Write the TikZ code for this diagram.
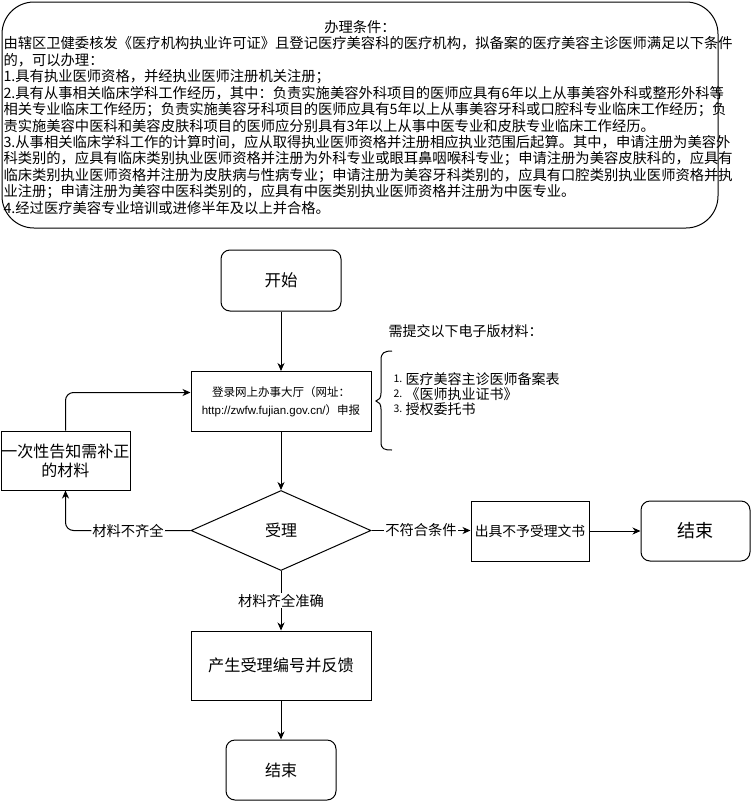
\documentclass[tikz,border=0pt]{standalone}
\usepackage{fontspec}
\setmainfont{Noto Sans CJK SC}
\newfontfamily\latinsans{Liberation Sans}
\usetikzlibrary{shapes.geometric,arrows.meta,calc}
\newcommand\fsz[2]{\fontsize{#1}{#2}\selectfont}
\begin{document}
\begin{tikzpicture}[x=1pt,y=-1pt,line width=1pt,
  box/.style={draw,line width=1pt,inner sep=0pt,align=center},
  rbox/.style={box,rounded corners=9pt},
  arr/.style={-{Stealth[length=8pt,width=7pt,inset=2.5pt]},line width=1pt},
  lbl/.style={fill=white,inner sep=1pt,font=\fsz{14.3}{17}},
  ctext/.style={anchor=west,inner sep=0pt,font=\fsz{14.3}{17}},
  itemno/.style={anchor=west,inner sep=0pt,font=\fsz{10.5}{12}},
  itemtx/.style={anchor=west,inner sep=0pt,font=\fsz{14}{16}},
]
\useasboundingbox (0,0) rectangle (751,801);
% conditions box
\draw[rounded corners=32pt] (2,2) rectangle (718,228);
\node[inner sep=0pt,font=\fsz{14.3}{17}] (title) at (360,27) {办理条件：};
\node[ctext] (c1) at (3,43.5) {由辖区卫健委核发《医疗机构执业许可证》且登记医疗美容科的医疗机构，拟备案的医疗美容主诊医师满足以下条件};
\node[ctext] (c2) at (3,60) {的，可以办理：};
\node[ctext] (c3) at (3,76.5) {1.具有执业医师资格，并经执业医师注册机关注册；};
\node[ctext] (c4) at (3,93) {2.具有从事相关临床学科工作经历，其中：负责实施美容外科项目的医师应具有6年以上从事美容外科或整形外科等};
\node[ctext] (c5) at (3,109.5) {相关专业临床工作经历；负责实施美容牙科项目的医师应具有5年以上从事美容牙科或口腔科专业临床工作经历；负};
\node[ctext] (c6) at (3,126) {责实施美容中医科和美容皮肤科项目的医师应分别具有3年以上从事中医专业和皮肤专业临床工作经历。};
\node[ctext] (c7) at (3,142.5) {3.从事相关临床学科工作的计算时间，应从取得执业医师资格并注册相应执业范围后起算。其中，申请注册为美容外};
\node[ctext] (c8) at (3,159) {科类别的，应具有临床类别执业医师资格并注册为外科专业或眼耳鼻咽喉科专业；申请注册为美容皮肤科的，应具有};
\node[ctext] (c9) at (3,175.5) {临床类别执业医师资格并注册为皮肤病与性病专业；申请注册为美容牙科类别的，应具有口腔类别执业医师资格并执};
\node[ctext] (c10) at (3,192) {业注册；申请注册为美容中医科类别的，应具有中医类别执业医师资格并注册为中医专业。};
\node[ctext] (c11) at (3,208.5) {4.经过医疗美容专业培训或进修半年及以上并合格。};

% flow nodes
\node[rbox,minimum width=120pt,minimum height=61pt,font=\fsz{16.5}{20}] (start) at (281,280.5) {开始};
\node[box,minimum width=180pt,minimum height=60pt,font=\fsz{11.5}{18}] (login) at (281,401.5) {登录网上办事大厅（网址：\\{\latinsans\fontsize{11.5}{18}\selectfont http://zwfw.fujian.gov.cn/}）申报};
\node[draw,diamond,line width=1pt,inner sep=0pt,minimum width=180pt,minimum height=80pt,font=\fsz{16}{19}] (dia) at (281,530.5) {受理};
\node[box,minimum width=129pt,minimum height=59pt,font=\fsz{16}{19.2}] (fix) at (65.5,460.5) {一次性告知需补正\\的材料};
\node[box,minimum width=118pt,minimum height=60pt,font=\fsz{13.8}{16}] (reject) at (530,531) {出具不予受理文书};
\node[rbox,minimum width=109pt,minimum height=60pt,font=\fsz{18}{21}] (end1) at (695.5,531) {结束};
\node[box,minimum width=180pt,minimum height=69pt,font=\fsz{16.2}{19}] (gen) at (281,665.5) {产生受理编号并反馈};
\node[rbox,minimum width=110pt,minimum height=60pt,font=\fsz{16}{19}] (end2) at (281,770) {结束};

% materials note
\node[inner sep=0pt,anchor=west,font=\fsz{14}{16}] (need) at (388,331) {需提交以下电子版材料：};
\draw[line width=1pt] (392,351) .. controls (384,351) and (381,353) .. (381,360) -- (381,393)
  .. controls (381,398) and (379,400) .. (376,401) .. controls (379,402) and (381,404) .. (381,409)
  -- (381,442) .. controls (381,449) and (384,450) .. (392,450);
\node[itemno] (n1) at (393,379) {1.};
\node[itemtx] (t1) at (405,379) {医疗美容主诊医师备案表};
\node[itemno] (n2) at (393,394) {2.};
\node[itemtx] (t2) at (405,394) {《医师执业证书》};
\node[itemno] (n3) at (393,409) {3.};
\node[itemtx] (t3) at (405,409) {授权委托书};

% connectors
\draw[arr] (start.south) -- (login.north);
\draw[arr] (login.south) -- (dia.north);
\draw[arr,rounded corners=8pt] (dia.west) -- node[lbl]{材料不齐全} (fix.south |- dia.west) -- (fix.south);
\draw[arr,rounded corners=8pt] (fix.north) |- ([yshift=9pt]login.west);
\draw[arr] (dia.east) -- node[lbl]{不符合条件} (reject.west |- dia.east);
\draw[arr] (reject.east) -- (end1.west);
\draw[arr] (dia.south) -- node[lbl,pos=0.5]{材料齐全准确} (gen.north);
\draw[arr] (gen.south) -- (end2.north);
\end{tikzpicture}
\end{document}
